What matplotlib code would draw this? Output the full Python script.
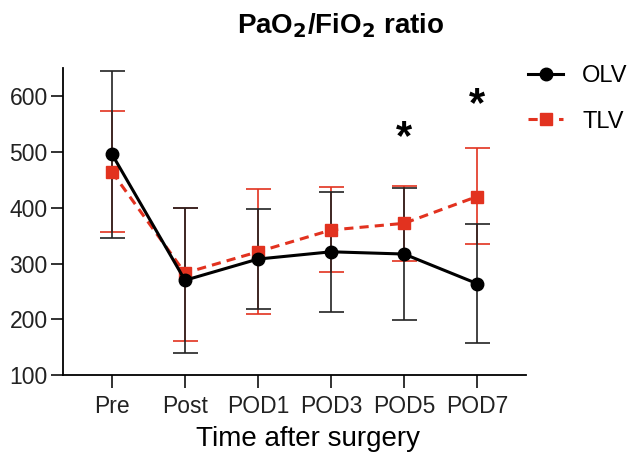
import matplotlib
matplotlib.use("Agg")
import matplotlib.pyplot as plt
from matplotlib.lines import Line2D

plt.rcParams['font.family'] = ['Liberation Sans', 'DejaVu Sans']

categories = ["Pre", "Post", "POD1", "POD3", "POD5", "POD7"]
olv_mean = [496, 270, 308, 321, 317, 264]
olv_upper = [645, 400, 397, 428, 436, 370]
olv_lower = [346, 140, 219, 214, 199, 157]
tlv_mean = [464, 283, 321, 360, 372, 420]
tlv_upper = [573, 400, 433, 437, 439, 506]
tlv_lower = [356, 161, 209, 284, 305, 335]
sig_positions = [4, 5]
sig_y = [524, 584]

red = "#e2321f"
fig = plt.figure(figsize=(6.3, 4.57), dpi=100)
ax = fig.add_axes([0.1, 0.179, 0.735, 0.672])
x = list(range(len(categories)))

def errs(m, lo, up):
    return [[a - b for a, b in zip(m, lo)], [b - a for a, b in zip(m, up)]]

ax.errorbar(x, tlv_mean, yerr=errs(tlv_mean, tlv_lower, tlv_upper), fmt='none',
            ecolor=red, elinewidth=1.2, capsize=9, capthick=1.2, zorder=2)
ax.errorbar(x, olv_mean, yerr=errs(olv_mean, olv_lower, olv_upper), fmt='none',
            ecolor="#222222", elinewidth=1.2, capsize=9, capthick=1.2, zorder=3)
ax.plot(x, tlv_mean, color=red, lw=2.2, ls=(0, (3, 2)), marker='s', ms=8, zorder=4)
ax.plot(x, olv_mean, color="black", lw=2.2, marker='o', ms=9, zorder=5)

for px, py in zip(sig_positions, sig_y):
    ax.text(px, py, "*", ha='center', va='center', fontsize=30, fontweight='bold')

ax.set_xlim(-0.67, 5.67)
ax.set_ylim(100, 650)
ax.set_yticks([100, 200, 300, 400, 500, 600])
ax.set_xticks(x)
ax.set_xticklabels(categories)
for s in ["top", "right"]:
    ax.spines[s].set_visible(False)
for s in ["left", "bottom"]:
    ax.spines[s].set_linewidth(1.3)
ax.tick_params(axis='both', direction='out', length=9, width=1.3, labelsize=16.5,
               colors="#222222")
ax.tick_params(axis='y', pad=2)
ax.tick_params(axis='x', pad=5)
ax.set_xlabel("Time after surgery", fontsize=20)
ax.xaxis.set_label_coords(0.529, -0.165)
ax.xaxis.label.set_va('top')
fig.text(341 / 630, 0.945, r"PaO$_\mathbf{2}$/FiO$_\mathbf{2}$ ratio", ha='center', va='center',
         fontsize=20, fontweight='bold')

handles = [Line2D([], [], color='black', lw=2.2, marker='o', ms=9),
           Line2D([], [], color=red, lw=2.2, ls=(0, (3, 2)), marker='s', ms=8)]
fig.legend(handles, ["OLV", "TLV"], loc='upper left', bbox_to_anchor=(528 / 630, 1 - 65 / 457),
           frameon=False, fontsize=17, handlelength=1.5, handletextpad=0.8,
           labelspacing=1.0, borderpad=0, borderaxespad=0)

fig.savefig("out.png", dpi=100)
